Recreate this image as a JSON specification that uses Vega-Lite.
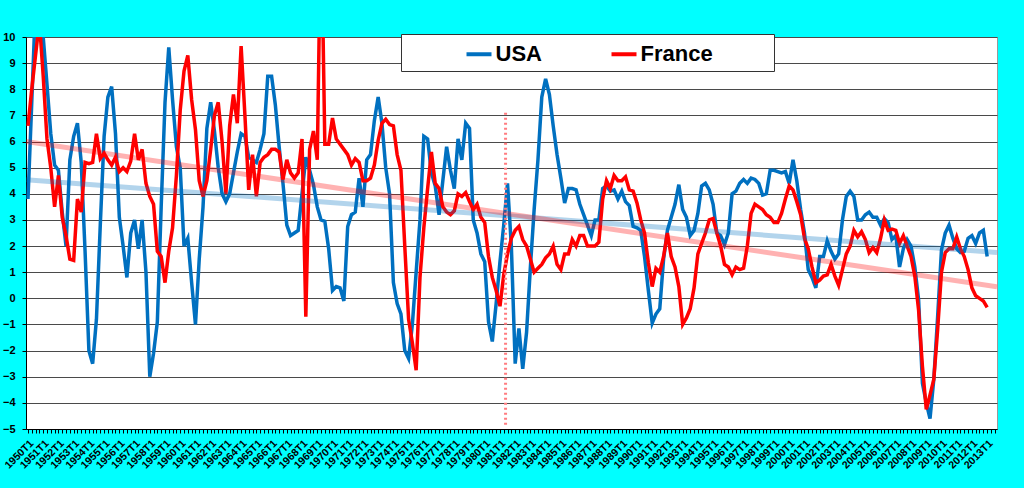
{
  "$schema": "https://vega.github.io/schema/vega-lite/v6.json",
  "width": 971,
  "height": 392,
  "autosize": "none",
  "padding": {"left": 26, "top": 37, "right": 27, "bottom": 59},
  "background": "#00FFFF",
  "config": {
    "font": "Liberation Sans",
    "view": {"fill": "white", "stroke": "#9a9a9a"},
    "axis": {
      "labelFont": "Liberation Sans",
      "labelFontWeight": "bold",
      "labelColor": "black",
      "domainColor": "black",
      "tickColor": "black",
      "tickSize": 4,
      "title": null
    }
  },
  "data": {
    "values": [
      {"d": "1950-01", "USA": 3.8, "France": 6.6}, {"d": "1950-04", "USA": 7.5, "France": 8.0}, {"d": "1950-07", "USA": 11.3, "France": 9.3}, {"d": "1950-10", "USA": 11.8, "France": 10.6},
      {"d": "1951-01", "USA": 10.0, "France": 8.5}, {"d": "1951-04", "USA": 8.2, "France": 6.1}, {"d": "1951-07", "USA": 6.3, "France": 5.0}, {"d": "1951-10", "USA": 5.1, "France": 3.5},
      {"d": "1952-01", "USA": 4.9, "France": 4.7}, {"d": "1952-04", "USA": 3.3, "France": 3.1}, {"d": "1952-07", "USA": 2.0, "France": 2.4}, {"d": "1952-10", "USA": 5.3, "France": 1.5},
      {"d": "1953-01", "USA": 6.2, "France": 1.45}, {"d": "1953-04", "USA": 6.7, "France": 3.8}, {"d": "1953-07", "USA": 5.2, "France": 3.3}, {"d": "1953-10", "USA": 1.8, "France": 5.2},
      {"d": "1954-01", "USA": -2.0, "France": 5.15}, {"d": "1954-04", "USA": -2.5, "France": 5.2}, {"d": "1954-07", "USA": -0.8, "France": 6.3}, {"d": "1954-10", "USA": 2.8, "France": 5.35},
      {"d": "1955-01", "USA": 6.2, "France": 5.55}, {"d": "1955-04", "USA": 7.7, "France": 5.3}, {"d": "1955-07", "USA": 8.1, "France": 5.1}, {"d": "1955-10", "USA": 6.3, "France": 5.4},
      {"d": "1956-01", "USA": 3.1, "France": 4.85}, {"d": "1956-04", "USA": 2.0, "France": 5.0}, {"d": "1956-07", "USA": 0.8, "France": 4.85}, {"d": "1956-10", "USA": 2.5, "France": 5.25},
      {"d": "1957-01", "USA": 3.0, "France": 6.3}, {"d": "1957-04", "USA": 1.9, "France": 5.3}, {"d": "1957-07", "USA": 3.0, "France": 5.7}, {"d": "1957-10", "USA": 1.0, "France": 4.4},
      {"d": "1958-01", "USA": -3.0, "France": 3.9}, {"d": "1958-04", "USA": -2.1, "France": 3.6}, {"d": "1958-07", "USA": -0.9, "France": 1.8}, {"d": "1958-10", "USA": 3.5, "France": 1.6},
      {"d": "1959-01", "USA": 7.5, "France": 0.6}, {"d": "1959-04", "USA": 9.6, "France": 1.8}, {"d": "1959-07", "USA": 7.6, "France": 2.7}, {"d": "1959-10", "USA": 5.8, "France": 4.7},
      {"d": "1960-01", "USA": 5.0, "France": 7.2}, {"d": "1960-04", "USA": 2.0, "France": 8.7}, {"d": "1960-07", "USA": 2.3, "France": 9.3}, {"d": "1960-10", "USA": 0.6, "France": 7.6},
      {"d": "1961-01", "USA": -1.0, "France": 6.45}, {"d": "1961-04", "USA": 1.5, "France": 4.5}, {"d": "1961-07", "USA": 3.5, "France": 3.9}, {"d": "1961-10", "USA": 6.5, "France": 4.5},
      {"d": "1962-01", "USA": 7.5, "France": 5.7}, {"d": "1962-04", "USA": 6.4, "France": 7.0}, {"d": "1962-07", "USA": 5.0, "France": 7.5}, {"d": "1962-10", "USA": 4.0, "France": 6.0},
      {"d": "1963-01", "USA": 3.7, "France": 4.0}, {"d": "1963-04", "USA": 4.0, "France": 6.6}, {"d": "1963-07", "USA": 4.8, "France": 7.8}, {"d": "1963-10", "USA": 5.6, "France": 6.7},
      {"d": "1964-01", "USA": 6.3, "France": 9.65}, {"d": "1964-04", "USA": 6.2, "France": 7.0}, {"d": "1964-07", "USA": 5.4, "France": 4.15}, {"d": "1964-10", "USA": 5.3, "France": 5.5},
      {"d": "1965-01", "USA": 5.2, "France": 3.9}, {"d": "1965-04", "USA": 5.7, "France": 5.2}, {"d": "1965-07", "USA": 6.3, "France": 5.4}, {"d": "1965-10", "USA": 8.5, "France": 5.5},
      {"d": "1966-01", "USA": 8.5, "France": 5.7}, {"d": "1966-04", "USA": 7.4, "France": 5.7}, {"d": "1966-07", "USA": 5.8, "France": 5.6}, {"d": "1966-10", "USA": 4.4, "France": 4.55},
      {"d": "1967-01", "USA": 2.8, "France": 5.3}, {"d": "1967-04", "USA": 2.4, "France": 4.8}, {"d": "1967-07", "USA": 2.5, "France": 4.6}, {"d": "1967-10", "USA": 2.6, "France": 4.8},
      {"d": "1968-01", "USA": 4.0, "France": 6.1}, {"d": "1968-04", "USA": 5.4, "France": -0.7}, {"d": "1968-07", "USA": 4.9, "France": 5.7}, {"d": "1968-10", "USA": 4.35, "France": 6.4},
      {"d": "1969-01", "USA": 3.5, "France": 5.3}, {"d": "1969-04", "USA": 3.0, "France": 15.0}, {"d": "1969-07", "USA": 2.95, "France": 5.9}, {"d": "1969-10", "USA": 1.9, "France": 5.9},
      {"d": "1970-01", "USA": 0.3, "France": 6.9}, {"d": "1970-04", "USA": 0.45, "France": 6.1}, {"d": "1970-07", "USA": 0.4, "France": 5.9}, {"d": "1970-10", "USA": -0.1, "France": 5.7},
      {"d": "1971-01", "USA": 2.75, "France": 5.5}, {"d": "1971-04", "USA": 3.2, "France": 5.1}, {"d": "1971-07", "USA": 3.3, "France": 5.35}, {"d": "1971-10", "USA": 4.6, "France": 5.2},
      {"d": "1972-01", "USA": 3.5, "France": 4.5}, {"d": "1972-04", "USA": 5.3, "France": 4.5}, {"d": "1972-07", "USA": 5.5, "France": 4.6}, {"d": "1972-10", "USA": 6.8, "France": 5.1},
      {"d": "1973-01", "USA": 7.7, "France": 6.05}, {"d": "1973-04", "USA": 6.7, "France": 6.7}, {"d": "1973-07", "USA": 5.0, "France": 6.85}, {"d": "1973-10", "USA": 4.0, "France": 6.65},
      {"d": "1974-01", "USA": 0.6, "France": 6.6}, {"d": "1974-04", "USA": -0.2, "France": 5.5}, {"d": "1974-07", "USA": -0.6, "France": 4.9}, {"d": "1974-10", "USA": -2.0, "France": 2.0},
      {"d": "1975-01", "USA": -2.3, "France": -0.8}, {"d": "1975-04", "USA": -1.0, "France": -1.7}, {"d": "1975-07", "USA": 1.0, "France": -2.75}, {"d": "1975-10", "USA": 3.0, "France": 0.8},
      {"d": "1976-01", "USA": 6.2, "France": 2.7}, {"d": "1976-04", "USA": 6.1, "France": 4.2}, {"d": "1976-07", "USA": 4.8, "France": 5.6}, {"d": "1976-10", "USA": 4.3, "France": 4.4},
      {"d": "1977-01", "USA": 3.2, "France": 4.2}, {"d": "1977-04", "USA": 4.5, "France": 3.5}, {"d": "1977-07", "USA": 5.8, "France": 3.3}, {"d": "1977-10", "USA": 4.9, "France": 3.2},
      {"d": "1978-01", "USA": 4.2, "France": 3.35}, {"d": "1978-04", "USA": 6.1, "France": 4.0}, {"d": "1978-07", "USA": 5.3, "France": 3.9}, {"d": "1978-10", "USA": 6.7, "France": 4.05},
      {"d": "1979-01", "USA": 6.5, "France": 3.7}, {"d": "1979-04", "USA": 3.0, "France": 3.4}, {"d": "1979-07", "USA": 2.5, "France": 3.6}, {"d": "1979-10", "USA": 1.7, "France": 3.1},
      {"d": "1980-01", "USA": 1.4, "France": 2.9}, {"d": "1980-04", "USA": -0.9, "France": 1.6}, {"d": "1980-07", "USA": -1.65, "France": 0.8}, {"d": "1980-10", "USA": -0.2, "France": 0.3},
      {"d": "1981-01", "USA": 1.4, "France": -0.3}, {"d": "1981-04", "USA": 2.8, "France": 0.9}, {"d": "1981-07", "USA": 4.4, "France": 1.7}, {"d": "1981-10", "USA": 2.0, "France": 2.3},
      {"d": "1982-01", "USA": -2.5, "France": 2.6}, {"d": "1982-04", "USA": -1.15, "France": 2.75}, {"d": "1982-07", "USA": -2.7, "France": 2.25}, {"d": "1982-10", "USA": -1.3, "France": 2.0},
      {"d": "1983-01", "USA": 1.2, "France": 1.5}, {"d": "1983-04", "USA": 3.4, "France": 1.0}, {"d": "1983-07", "USA": 5.3, "France": 1.15}, {"d": "1983-10", "USA": 7.7, "France": 1.3},
      {"d": "1984-01", "USA": 8.4, "France": 1.55}, {"d": "1984-04", "USA": 7.8, "France": 1.7}, {"d": "1984-07", "USA": 6.6, "France": 2.0}, {"d": "1984-10", "USA": 5.5, "France": 1.3},
      {"d": "1985-01", "USA": 4.6, "France": 1.1}, {"d": "1985-04", "USA": 3.65, "France": 1.7}, {"d": "1985-07", "USA": 4.2, "France": 1.7}, {"d": "1985-10", "USA": 4.2, "France": 2.25},
      {"d": "1986-01", "USA": 4.15, "France": 2.0}, {"d": "1986-04", "USA": 3.6, "France": 2.4}, {"d": "1986-07", "USA": 3.2, "France": 2.4}, {"d": "1986-10", "USA": 2.8, "France": 2.0},
      {"d": "1987-01", "USA": 2.4, "France": 2.0}, {"d": "1987-04", "USA": 3.0, "France": 2.0}, {"d": "1987-07", "USA": 3.0, "France": 2.15}, {"d": "1987-10", "USA": 4.2, "France": 3.8},
      {"d": "1988-01", "USA": 4.3, "France": 4.5}, {"d": "1988-04", "USA": 4.1, "France": 4.2}, {"d": "1988-07", "USA": 4.15, "France": 4.7}, {"d": "1988-10", "USA": 3.8, "France": 4.5},
      {"d": "1989-01", "USA": 4.1, "France": 4.5}, {"d": "1989-04", "USA": 3.7, "France": 4.65}, {"d": "1989-07", "USA": 3.55, "France": 4.15}, {"d": "1989-10", "USA": 2.75, "France": 4.1},
      {"d": "1990-01", "USA": 2.7, "France": 3.65}, {"d": "1990-04", "USA": 2.6, "France": 3.0}, {"d": "1990-07", "USA": 1.6, "France": 2.5}, {"d": "1990-10", "USA": 0.3, "France": 1.35},
      {"d": "1991-01", "USA": -0.95, "France": 0.45}, {"d": "1991-04", "USA": -0.6, "France": 1.15}, {"d": "1991-07", "USA": -0.4, "France": 1.0}, {"d": "1991-10", "USA": 1.5, "France": 1.6},
      {"d": "1992-01", "USA": 2.6, "France": 2.5}, {"d": "1992-04", "USA": 3.1, "France": 1.6}, {"d": "1992-07", "USA": 3.6, "France": 1.2}, {"d": "1992-10", "USA": 4.35, "France": 0.45},
      {"d": "1993-01", "USA": 3.4, "France": -1.0}, {"d": "1993-04", "USA": 3.1, "France": -0.75}, {"d": "1993-07", "USA": 2.4, "France": -0.4}, {"d": "1993-10", "USA": 2.6, "France": 0.4},
      {"d": "1994-01", "USA": 3.25, "France": 1.7}, {"d": "1994-04", "USA": 4.3, "France": 2.1}, {"d": "1994-07", "USA": 4.4, "France": 2.5}, {"d": "1994-10", "USA": 4.15, "France": 3.0},
      {"d": "1995-01", "USA": 3.6, "France": 3.05}, {"d": "1995-04", "USA": 2.5, "France": 2.5}, {"d": "1995-07", "USA": 2.4, "France": 2.0}, {"d": "1995-10", "USA": 2.05, "France": 1.3},
      {"d": "1996-01", "USA": 2.5, "France": 1.2}, {"d": "1996-04", "USA": 4.0, "France": 0.9}, {"d": "1996-07", "USA": 4.1, "France": 1.2}, {"d": "1996-10", "USA": 4.4, "France": 1.1},
      {"d": "1997-01", "USA": 4.55, "France": 1.15}, {"d": "1997-04", "USA": 4.4, "France": 2.0}, {"d": "1997-07", "USA": 4.6, "France": 3.25}, {"d": "1997-10", "USA": 4.55, "France": 3.6},
      {"d": "1998-01", "USA": 4.4, "France": 3.5}, {"d": "1998-04", "USA": 3.95, "France": 3.4}, {"d": "1998-07", "USA": 4.0, "France": 3.2}, {"d": "1998-10", "USA": 4.9, "France": 3.1},
      {"d": "1999-01", "USA": 4.9, "France": 2.9}, {"d": "1999-04", "USA": 4.85, "France": 2.9}, {"d": "1999-07", "USA": 4.8, "France": 3.25}, {"d": "1999-10", "USA": 4.85, "France": 3.8},
      {"d": "2000-01", "USA": 4.4, "France": 4.3}, {"d": "2000-04", "USA": 5.3, "France": 4.15}, {"d": "2000-07", "USA": 4.5, "France": 3.7}, {"d": "2000-10", "USA": 3.4, "France": 3.2},
      {"d": "2001-01", "USA": 2.5, "France": 2.3}, {"d": "2001-04", "USA": 1.1, "France": 1.9}, {"d": "2001-07", "USA": 0.8, "France": 1.2}, {"d": "2001-10", "USA": 0.4, "France": 0.6},
      {"d": "2002-01", "USA": 1.6, "France": 0.7}, {"d": "2002-04", "USA": 1.6, "France": 0.85}, {"d": "2002-07", "USA": 2.2, "France": 0.9}, {"d": "2002-10", "USA": 1.8, "France": 1.3},
      {"d": "2003-01", "USA": 1.5, "France": 0.85}, {"d": "2003-04", "USA": 1.7, "France": 0.5}, {"d": "2003-07", "USA": 3.0, "France": 1.1}, {"d": "2003-10", "USA": 3.9, "France": 1.7},
      {"d": "2004-01", "USA": 4.1, "France": 2.0}, {"d": "2004-04", "USA": 3.9, "France": 2.6}, {"d": "2004-07", "USA": 3.0, "France": 2.35}, {"d": "2004-10", "USA": 3.0, "France": 2.55},
      {"d": "2005-01", "USA": 3.2, "France": 2.25}, {"d": "2005-04", "USA": 3.3, "France": 1.75}, {"d": "2005-07", "USA": 3.1, "France": 1.95}, {"d": "2005-10", "USA": 3.1, "France": 1.75},
      {"d": "2006-01", "USA": 2.8, "France": 2.3}, {"d": "2006-04", "USA": 3.05, "France": 3.0}, {"d": "2006-07", "USA": 2.9, "France": 2.6}, {"d": "2006-10", "USA": 2.25, "France": 2.65},
      {"d": "2007-01", "USA": 2.4, "France": 2.6}, {"d": "2007-04", "USA": 1.2, "France": 2.1}, {"d": "2007-07", "USA": 1.9, "France": 2.4}, {"d": "2007-10", "USA": 2.25, "France": 2.0},
      {"d": "2008-01", "USA": 2.0, "France": 1.6}, {"d": "2008-04", "USA": 1.2, "France": 0.85}, {"d": "2008-07", "USA": -0.05, "France": -0.45}, {"d": "2008-10", "USA": -3.25, "France": -2.6},
      {"d": "2009-01", "USA": -4.0, "France": -4.25}, {"d": "2009-04", "USA": -4.6, "France": -3.7}, {"d": "2009-07", "USA": -3.1, "France": -3.1}, {"d": "2009-10", "USA": -0.7, "France": -1.2},
      {"d": "2010-01", "USA": 1.85, "France": 1.0}, {"d": "2010-04", "USA": 2.5, "France": 1.75}, {"d": "2010-07", "USA": 2.8, "France": 1.9}, {"d": "2010-10", "USA": 2.3, "France": 1.9},
      {"d": "2011-01", "USA": 1.9, "France": 2.35}, {"d": "2011-04", "USA": 1.75, "France": 1.9}, {"d": "2011-07", "USA": 1.8, "France": 1.6}, {"d": "2011-10", "USA": 2.3, "France": 1.1},
      {"d": "2012-01", "USA": 2.4, "France": 0.4}, {"d": "2012-04", "USA": 2.1, "France": 0.1}, {"d": "2012-07", "USA": 2.5, "France": 0.0}, {"d": "2012-10", "USA": 2.6, "France": -0.1},
      {"d": "2013-01", "USA": 1.6, "France": -0.35}
    ]
  },
  "transform": [{"fold": ["USA", "France"], "as": ["pays", "value"]}],
  "encoding": {
    "x": {
      "field": "d",
      "type": "temporal",
      "scale": {
        "type": "utc",
        "domain": [
          {"year": 1949, "month": 11, "date": 14, "utc": true},
          {"year": 2013, "month": 8, "date": 25, "utc": true}
        ]
      },
      "axis": {
        "grid": false,
        "tickCount": {"interval": "month", "step": 3},
        "labelExpr": "utcmonth(datum.value) === 0 ? utcFormat(datum.value, '%Y') + 'T1' : ''",
        "labelAngle": -45,
        "labelFontSize": 10.5,
        "labelOverlap": false,
        "labelFlush": false,
        "labelPadding": 5
      }
    },
    "y": {
      "field": "value",
      "type": "quantitative",
      "scale": {"domain": [-5, 10], "nice": false, "zero": false},
      "axis": {
        "values": [-5, -4, -3, -2, -1, 0, 1, 2, 3, 4, 5, 6, 7, 8, 9, 10],
        "grid": true,
        "gridColor": "#4a4a4a",
        "gridWidth": 1,
        "labelFontSize": 11,
        "labelPadding": 7
      }
    },
    "color": {
      "field": "pays",
      "type": "nominal",
      "scale": {"domain": ["USA", "France"], "range": ["#0070C0", "#FF0000"]},
      "legend": {
        "title": " ",
        "titleOrient": "right",
        "titlePadding": 56,
        "orient": "none",
        "legendX": 375,
        "legendY": -3,
        "direction": "horizontal",
        "symbolType": "stroke",
        "symbolSize": 625,
        "symbolStrokeWidth": 4,
        "symbolOpacity": 1,
        "symbolOffset": 58,
        "labelFont": "Liberation Sans",
        "labelFontSize": 22,
        "labelFontWeight": "bold",
        "labelColor": "black",
        "labelOffset": 2,
        "columnPadding": 9,
        "padding": 5.5,
        "fillColor": "white",
        "strokeColor": "#333333"
      }
    }
  },
  "layer": [
    {
      "data": {"values": [{}]},
      "mark": {"type": "rule", "color": "#F5CD6A", "strokeWidth": 3, "strokeDash": [3, 4]},
      "encoding": {"x": null, "color": null, "y": {"datum": 0}}
    },
    {
      "mark": {"type": "line", "strokeWidth": 3.5, "clip": true}
    },
    {
      "data": {
        "values": [
          {"d": "1949-11-14", "pays": "USA", "tendance": 4.54},
          {"d": "2013-08-25", "pays": "USA", "tendance": 1.75},
          {"d": "1949-11-14", "pays": "France", "tendance": 6.0},
          {"d": "2013-08-25", "pays": "France", "tendance": 0.44}
        ]
      },
      "mark": {"type": "line", "strokeWidth": 5, "opacity": 0.3, "clip": true},
      "encoding": {"y": {"field": "tendance", "type": "quantitative"}}
    },
    {
      "data": {"values": [{"d": "1981-05-15", "haut": 7.1, "bas": -4.85}]},
      "mark": {"type": "rule", "color": "#FF7C80", "strokeWidth": 3, "strokeDash": [2, 3]},
      "encoding": {
        "color": null,
        "y": {"field": "haut", "type": "quantitative"},
        "y2": {"field": "bas"}
      }
    }
  ]
}
